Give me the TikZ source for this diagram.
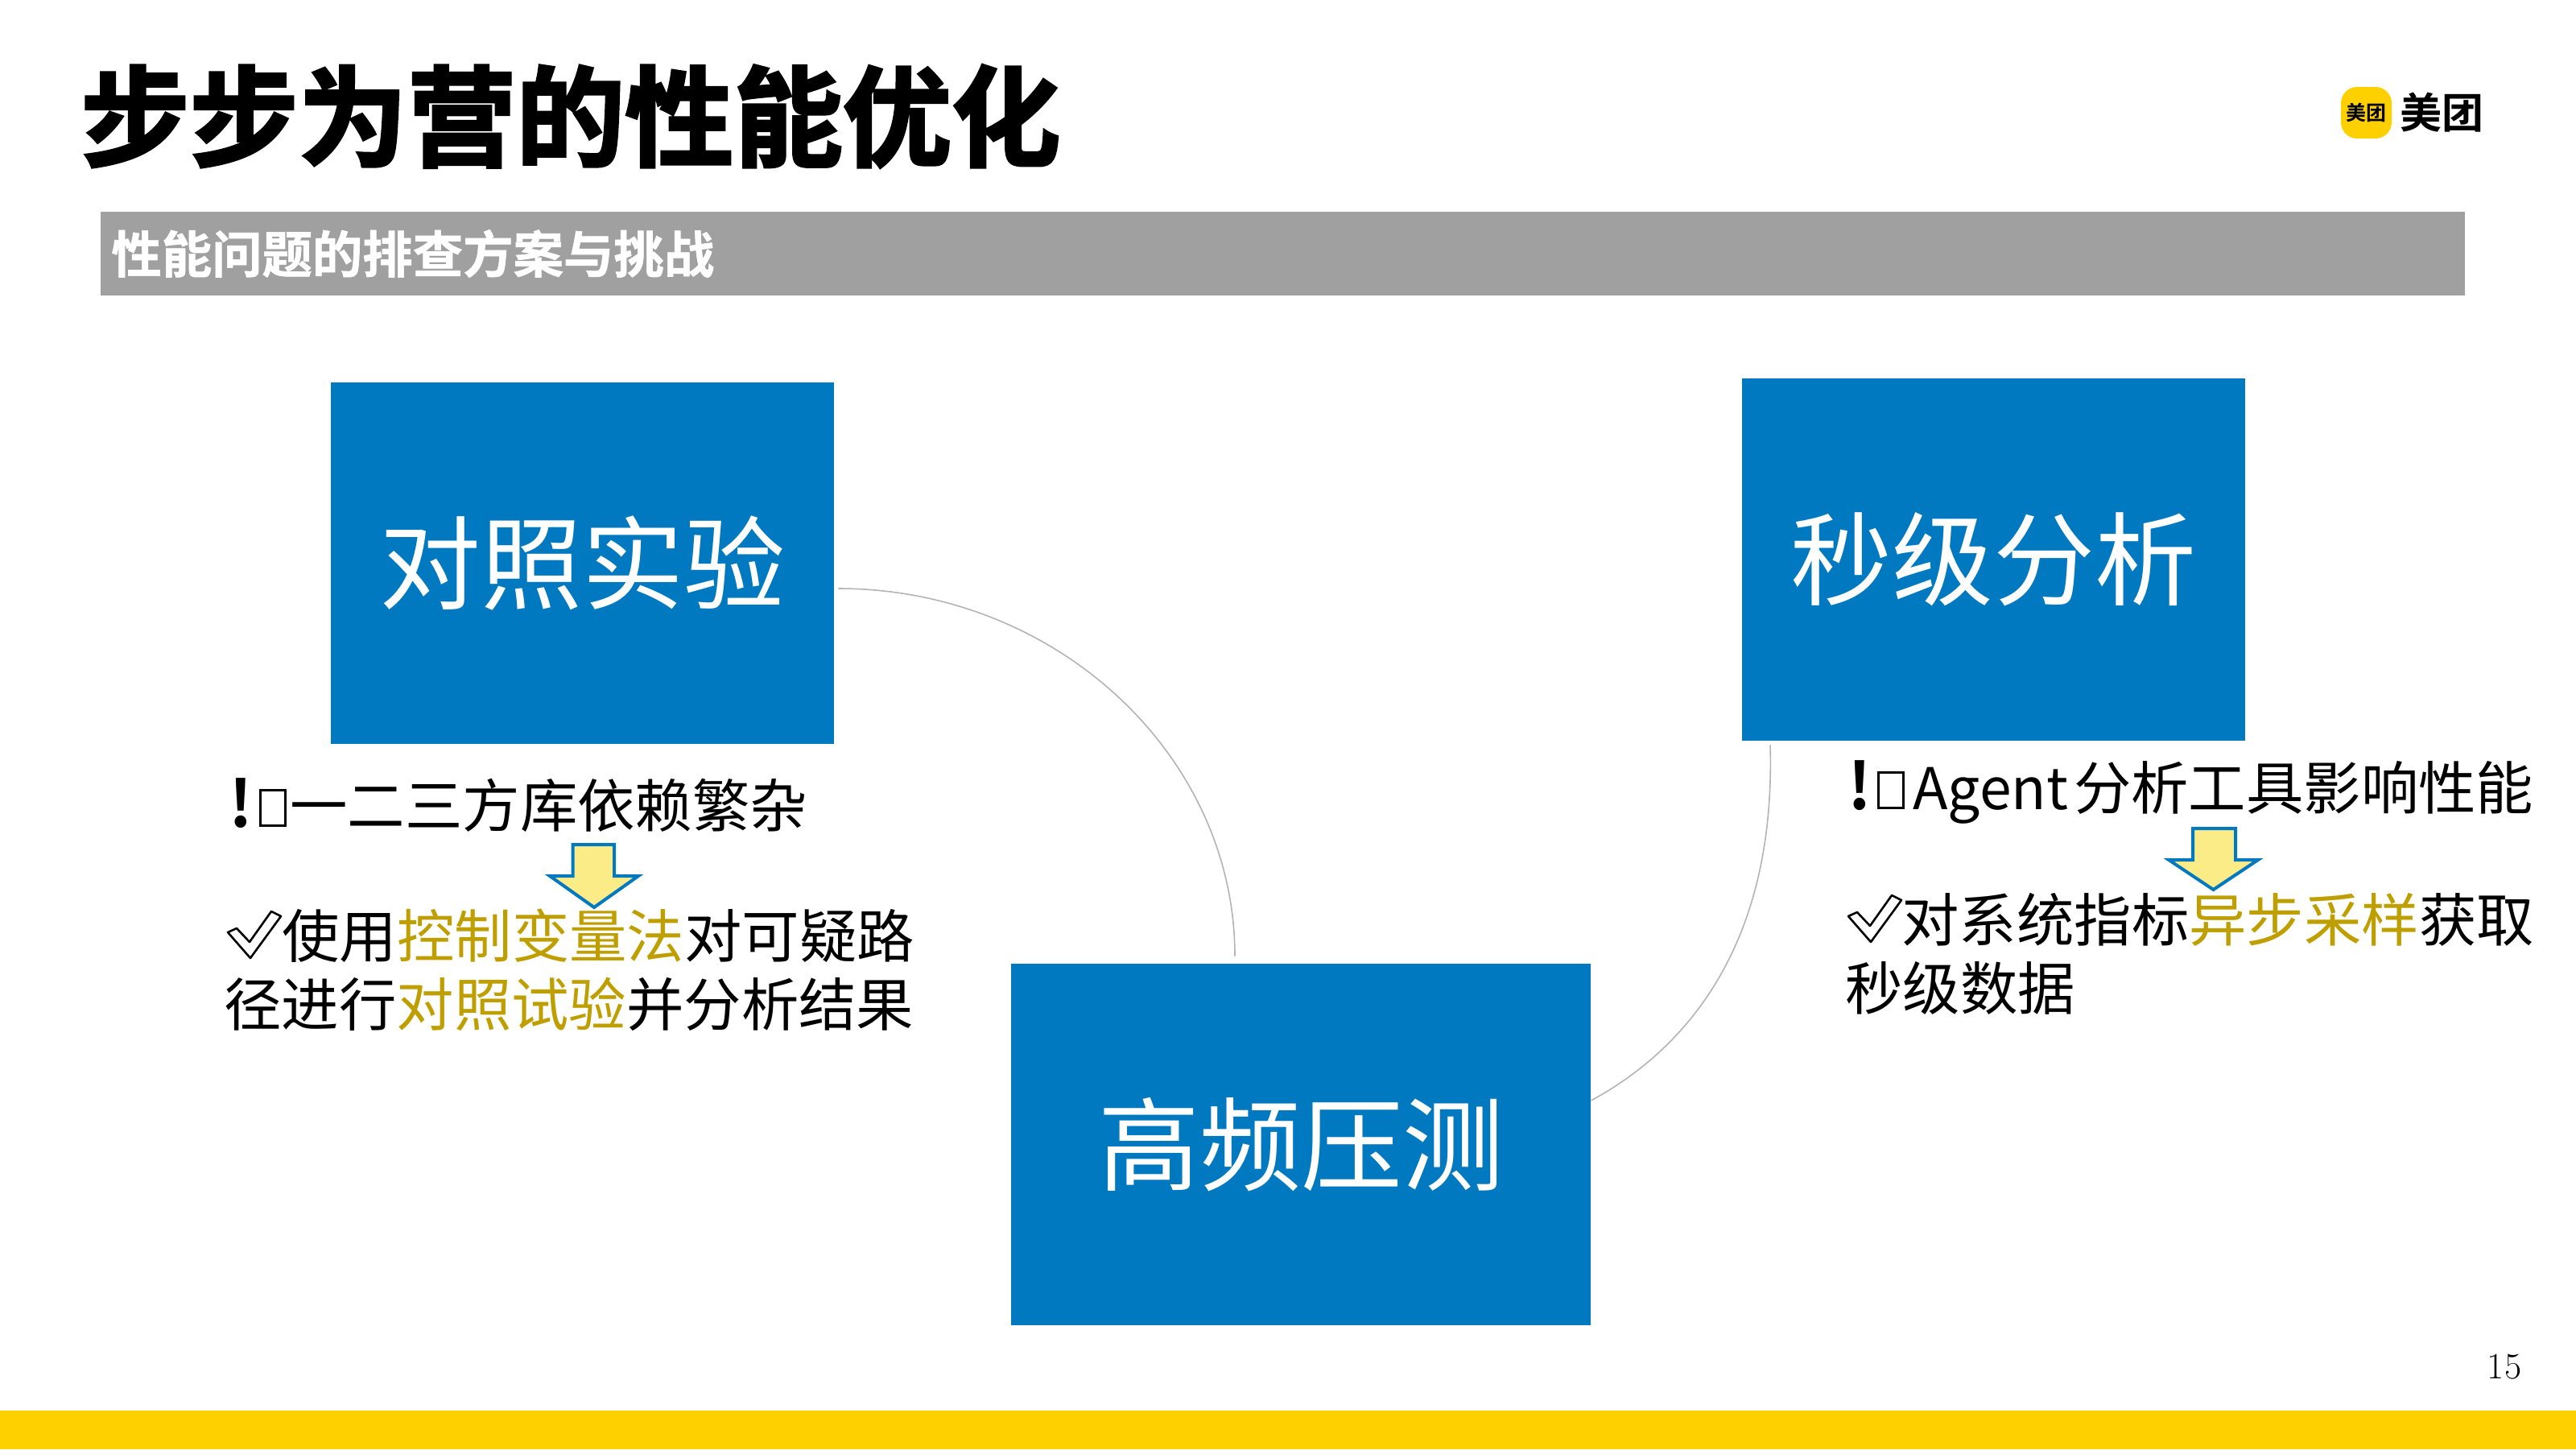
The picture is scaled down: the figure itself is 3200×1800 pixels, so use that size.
\documentclass[tikz,border=0pt]{standalone}
\usepackage{fontspec}
\setmainfont{Noto Sans CJK SC}
\newfontfamily\cjk{Noto Sans CJK SC}
\newfontfamily\cjktitle[FakeBold=2.5]{Noto Sans CJK SC Bold}
\newfontfamily\cjkbold{Noto Sans CJK SC Bold}
\newfontfamily\cjksub[FakeBold=1]{Noto Sans CJK SC Bold}
\newfontfamily\pagefont{Latin Modern Roman}
\definecolor{boxblue}{HTML}{0079C1}
\definecolor{hl}{HTML}{BF9F00}
\definecolor{bargrey}{HTML}{A0A0A0}
\definecolor{mtyellow}{HTML}{FFD000}
\definecolor{arrowfill}{HTML}{FBEC88}
\definecolor{arcgrey}{HTML}{B4B4B4}
\newcommand\tofu{{\setlength\fboxsep{0pt}\setlength\fboxrule{1.5pt}\raisebox{1.5pt}{\fbox{\rule{0pt}{20.5pt}\rule{14pt}{0pt}}}}}
\newcommand\bang[1]{\makebox[#1][l]{\cjkbold\fontsize{40}{44}\selectfont !}}
\newcommand\hlt[1]{\textcolor{hl}{#1}}
\newcommand\boxtxt[1]{\raisebox{-1.5pt}{#1}}
\tikzset{
  x=0.5pt,y=-0.5pt,
  bluebox/.style={fill=boxblue,text=white,inner sep=0pt,font=\cjk\fontsize{63}{70}\selectfont},
  textline/.style={anchor=base west,inner sep=0pt,font=\cjk\fontsize{35.7}{40}\selectfont},
  downarrow/.style={draw=boxblue,fill=arrowfill,line width=2pt,miter limit=10},
  checkmark/.style={draw=black,line width=1.3pt,fill=white,line join=round},
  arc line/.style={draw=arcgrey,line width=0.8pt},
}
\begin{document}
\begin{tikzpicture}
\useasboundingbox (0,0) rectangle (3200,1800);
\fill[white] (0,0) rectangle (3200,1800);
% title
\node[anchor=base west,inner sep=0pt,font=\cjktitle\fontsize{67.6}{75}\selectfont] (title) at (100,196) {步步为营的性能优化};
\fill[bargrey] (125,263) rectangle (3062,367);
\node[anchor=base west,inner sep=0pt,text=white,font=\cjksub\fontsize{31.2}{35}\selectfont] (sub) at (138,339) {性能问题的排查方案与挑战};
% logo
\fill[mtyellow,rounded corners=10pt] (2908,108) rectangle (2971,172);
\node[anchor=center,inner sep=0pt,font=\cjkbold\fontsize{12.5}{14}\selectfont] (logosmall) at (2939.5,140) {美团};
\node[anchor=center,inner sep=0pt,font=\cjkbold\fontsize{26}{28}\selectfont] (logobig) at (3033,140) {美团};
% boxes
\node[bluebox,minimum width=312.5pt,minimum height=224.5pt] (a) at (723.5,699.5) {\boxtxt{对照实验}};
\node[bluebox,minimum width=312.5pt,minimum height=225pt] (b) at (2476.5,695) {\boxtxt{秒级分析}};
\node[bluebox,minimum width=360pt,minimum height=224.5pt] (c) at (1616,1421.5) {\boxtxt{高频压测}};
% connectors
\draw[arc line] ([shift={(5,31.5)}]a.east) .. controls (1312,731) and (1534,938) .. ([shift={(-82,-9)}]c.north);
\draw[arc line] ([shift={(-277.5,5)}]b.south) .. controls (2206,1168) and (2100,1300) .. ([shift={(0,-54.5)}]c.east);
% left text
\node[textline] (l1) at (284,1027) {\bang{19pt}\tofu\hspace{2pt}一二三方库依赖繁杂};
\draw[downarrow] (711.5,1049) -- (763,1049) -- (763,1088) -- (793,1088) -- (738,1127) -- (683,1088) -- (711.5,1088) -- cycle;
\node[textline] (l2) at (350,1189) {使用\hlt{控制变量法}对可疑路};
\node[textline] (l3) at (278,1274) {径进行\hlt{对照试验}并分析结果};
\draw[checkmark] (283,1158) -- (294,1153) -- (310,1170) -- (337,1132) -- (349,1138) -- (311,1190) -- cycle;
% right text
\node[textline] (r1) at (2295,1005) {\bang{18.5pt}\tofu\hspace{5pt}Agent\hspace{3.5pt}分析工具影响性能};
\draw[downarrow] (2724,1029) -- (2777,1029) -- (2777,1068) -- (2805,1068) -- (2749.5,1105) -- (2694,1068) -- (2724,1068) -- cycle;
\node[textline] (r2) at (2362,1169) {对系统指标\hlt{异步采样}获取};
\node[textline] (r3) at (2292,1254) {秒级数据};
\draw[checkmark] (2296,1138) -- (2307,1133) -- (2323,1150) -- (2350,1112) -- (2362,1118) -- (2324,1170) -- cycle;
% footer
\node[anchor=center,inner sep=0pt,font=\pagefont\fontsize{23}{26}\selectfont] (page) at (3111,1698) {15};
\fill[mtyellow] (0,1752) rectangle (3200,1800);
\end{tikzpicture}
\end{document}
